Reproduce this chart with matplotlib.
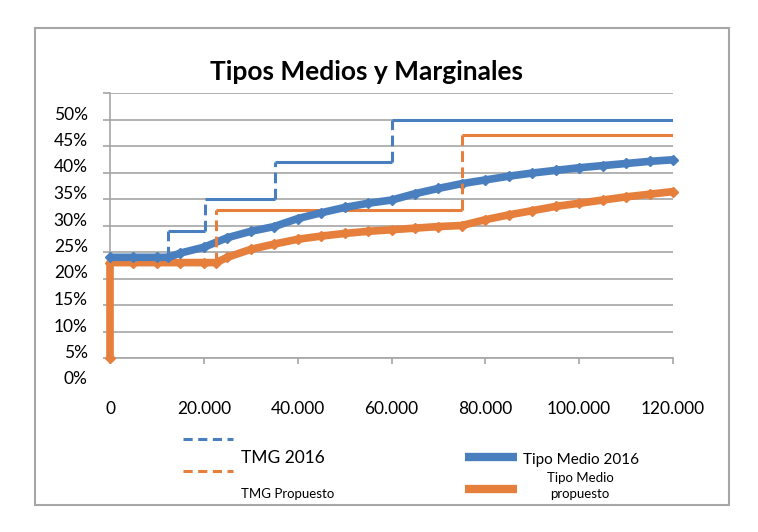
import matplotlib
matplotlib.use('Agg')
import matplotlib.pyplot as plt
from matplotlib.lines import Line2D
from matplotlib.patches import Rectangle
from matplotlib.transforms import ScaledTranslation

plt.rcParams['font.family'] = ['Lato', 'DejaVu Sans']

# DATOS
# tipo marginal 2016 (tramos y tipos)
tramos_2016 = [0, 12450, 20200, 35200, 60000]
tipos_2016 = [0.19, 0.24, 0.30, 0.37, 0.45]
# tipo marginal propuesto
tramos_prop = [0, 22600, 75000]
tipos_prop = [0.18, 0.28, 0.42]
renta_max = 120000

# tipo medio 2016
renta_medio_2016 = [0, 5000, 10000, 12450, 15000, 20000, 25000, 30000, 35000, 40000,
                    45000, 50000, 55000, 60000, 65000, 70000, 75000, 80000, 85000,
                    90000, 95000, 100000, 105000, 110000, 115000, 120000]
medio_2016 = [0.19, 0.19, 0.19, 0.19, 0.198, 0.209, 0.227, 0.239, 0.248, 0.263,
              0.274, 0.284, 0.292, 0.298, 0.310, 0.320, 0.329, 0.336, 0.343,
              0.349, 0.354, 0.359, 0.363, 0.367, 0.371, 0.374]

# tipo medio propuesto
renta_medio_prop = [0, 0, 5000, 10000, 15000, 20000, 22600, 25000, 30000, 35000,
                    40000, 45000, 50000, 55000, 60000, 65000, 70000, 75000, 80000,
                    85000, 90000, 95000, 100000, 105000, 110000, 115000, 120000]
medio_prop = [0.0, 0.18, 0.18, 0.18, 0.18, 0.18, 0.18, 0.190, 0.205, 0.215,
              0.224, 0.230, 0.235, 0.239, 0.242, 0.245, 0.248, 0.250, 0.261,
              0.270, 0.278, 0.286, 0.292, 0.298, 0.304, 0.309, 0.314]

x_ticks = [0, 20000, 40000, 60000, 80000, 100000, 120000]
x_labels = ['0', '20.000', '40.000', '60.000', '80.000', '100.000', '120.000']
y_ticks = [0, 0.05, 0.10, 0.15, 0.20, 0.25, 0.30, 0.35, 0.40, 0.45, 0.50]
y_labels = ['0%', '5%', '10%', '15%', '20%', '25%', '30%', '35%', '40%', '45%', '50%']

azul = '#4a7fbf'
naranja = '#e67e3c'
gris = '#a6a6a6'

fig = plt.figure(figsize=(7.58, 5.32), dpi=100)
ax = fig.add_axes([110 / 758, 1 - 358 / 532, 563 / 758, 265 / 532])

# escalones (horizontal continuo, vertical discontinuo)
ax.hlines(tipos_2016, tramos_2016, tramos_2016[1:] + [renta_max], color=azul, lw=2.2, zorder=2)
ax.vlines(tramos_2016[1:], tipos_2016[:-1], tipos_2016[1:], color=azul, lw=2.2,
          linestyles=(0, (3.5, 1.8)), zorder=5)
ax.hlines(tipos_prop, tramos_prop, tramos_prop[1:] + [renta_max], color=naranja, lw=2.2, zorder=2)
ax.vlines(tramos_prop[1:], tipos_prop[:-1], tipos_prop[1:], color=naranja, lw=2.2,
          linestyles=(0, (3.5, 1.8)), zorder=5)

# tipos medios
ax.plot(renta_medio_2016, medio_2016, color=azul, lw=5.5, marker='D', ms=5,
        solid_capstyle='butt', clip_on=False, zorder=4)
ax.plot(renta_medio_prop, medio_prop, color=naranja, lw=5.5, marker='D', ms=5,
        solid_capstyle='butt', clip_on=False, zorder=3)

# ejes
ax.set_xlim(0, renta_max)
ax.set_ylim(0, 0.5)
ax.set_xticks(x_ticks)
ax.set_xticklabels(x_labels, fontsize=12.5)
ax.set_yticks(y_ticks)
ax.set_yticklabels(y_labels, fontsize=12.5)
ax.grid(axis='y', color=gris, lw=1.2)
ax.set_axisbelow(True)
for s in ['top', 'right']:
    ax.spines[s].set_visible(False)
for s in ['left', 'bottom']:
    ax.spines[s].set_color(gris)
    ax.spines[s].set_linewidth(1.2)
ax.tick_params(axis='y', length=5, width=1.2, color=gris, pad=11)
ax.tick_params(axis='x', length=4, width=1.2, color=gris, pad=27)

# etiquetas del eje y desplazadas hacia abajo como en el original
desplazamiento = ScaledTranslation(0, -0.20, fig.dpi_scale_trans)
for lab in ax.get_yticklabels():
    lab.set_transform(lab.get_transform() + desplazamiento)

# titulo
fig.text(366 / 758, 1 - 72 / 532, 'Tipos Medios y Marginales', fontsize=19,
         fontweight='bold', ha='center', va='center')

# leyenda
def fx(px):
    return px / 758

def fy(py):
    return 1 - py / 532

fig.add_artist(Line2D([fx(183), fx(233)], [fy(439), fy(439)], color=azul, lw=2.2,
                      linestyle=(0, (3, 1.8))))
fig.add_artist(Line2D([fx(183), fx(233)], [fy(471), fy(471)], color=naranja, lw=2.2,
                      linestyle=(0, (3, 1.8))))
fig.text(fx(241), fy(458), 'TMG 2016', fontsize=12.5, va='center')
fig.text(fx(241), fy(494), 'TMG Propuesto', fontsize=9.5, va='center')

fig.add_artist(Line2D([fx(465), fx(517)], [fy(457), fy(457)], color=azul, lw=6,
                      solid_capstyle='butt'))
fig.add_artist(Line2D([fx(465), fx(517)], [fy(489), fy(489)], color=naranja, lw=6,
                      solid_capstyle='butt'))
fig.text(fx(523), fy(460), 'Tipo Medio 2016', fontsize=11, va='center')
fig.text(fx(580), fy(486), 'Tipo Medio\npropuesto', fontsize=9.5, va='center',
         ha='center', linespacing=1.35)

# marco
fig.add_artist(Rectangle((fx(35), fy(505)), fx(729) - fx(35), fy(28) - fy(505),
                         transform=fig.transFigure, fill=False, edgecolor=gris, lw=1.5))

fig.savefig('out.png', dpi=100)
